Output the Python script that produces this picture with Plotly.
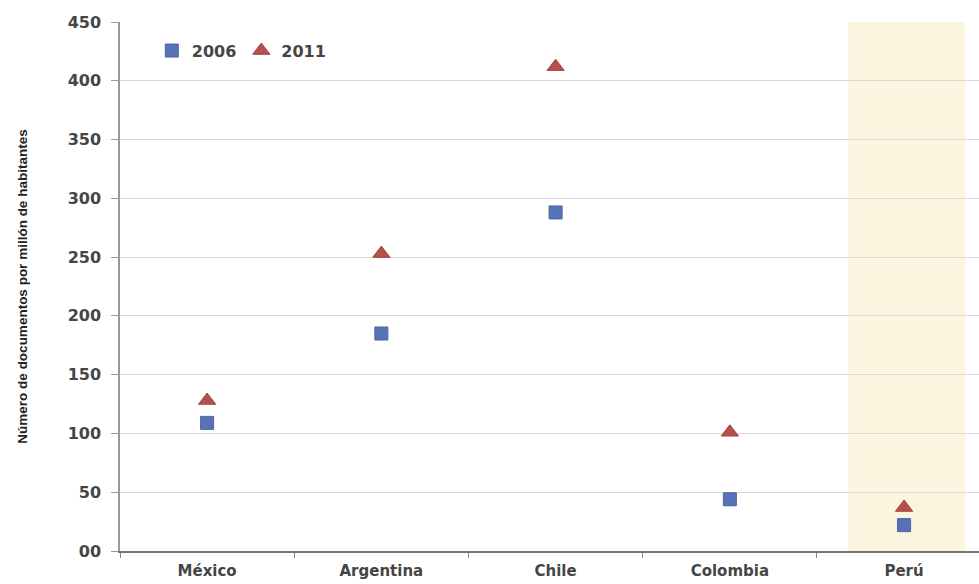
import plotly.graph_objects as go

countries = ["México", "Argentina", "Chile", "Colombia", "Perú"]
docs_2006 = [109, 185, 288, 44, 22]
docs_2011 = [128, 253, 412, 101, 37]
y_ticks = [0, 50, 100, 150, 200, 250, 300, 350, 400, 450]
y_tick_text = ["00", "50", "100", "150", "200", "250", "300", "350", "400", "450"]

label_font = dict(family="DejaVu Sans", size=16, color="#454545", weight="bold")
x_label_font = dict(family="DejaVu Sans", size=15, color="#454545", weight="bold")

fig = go.Figure()

fig.add_trace(go.Scatter(
    x=countries, y=docs_2006, mode="markers", name="2006",
    marker=dict(symbol="square", size=13, color="#5872B6",
                line=dict(color="#4A64A2", width=1)),
))
fig.add_trace(go.Scatter(
    x=countries, y=docs_2011, mode="markers", name="2011",
    marker=dict(symbol="triangle-up", size=15, color="#B5504D",
                line=dict(color="#A04441", width=1)),
))

# highlighted band behind Perú
fig.add_shape(type="rect", xref="x", yref="paper",
              x0=3.68, x1=4.35, y0=0, y1=1,
              fillcolor="#FBF5DF", line=dict(width=0), layer="below")

fig.update_layout(
    width=979, height=584,
    margin=dict(l=120, r=0, t=22, b=33),
    paper_bgcolor="white", plot_bgcolor="white",
    font=dict(family="DejaVu Sans", color="#454545"),
    showlegend=True,
    legend=dict(orientation="h", x=0.037, y=0.978, xanchor="left", yanchor="top",
                bgcolor="rgba(0,0,0,0)", font=label_font,
                itemwidth=30, tracegroupgap=0),
    xaxis=dict(
        type="category", range=[-0.5, 4.43], automargin=False,
        tickson="boundaries", ticks="outside", ticklen=5, tickcolor="#888888",
        showline=True, linecolor="#777777", linewidth=2,
        showgrid=False, tickfont=x_label_font, ticklabelstandoff=5,
    ),
    yaxis=dict(
        range=[0, 450], tickvals=y_ticks, ticktext=y_tick_text, automargin=False,
        ticks="outside", ticklen=7, tickcolor="#999999",
        showline=True, linecolor="#999999", linewidth=1.5,
        showgrid=True, gridcolor="#D9D9D9", gridwidth=1,
        zeroline=False,
        tickfont=label_font, ticklabelstandoff=7,
        title=dict(text="<b>Número de documentos por millón de habitantes</b>",
                   font=dict(size=13.5, family="Liberation Sans", color="#222222"),
                   standoff=37),
    ),
)

fig.write_html("out.html")
